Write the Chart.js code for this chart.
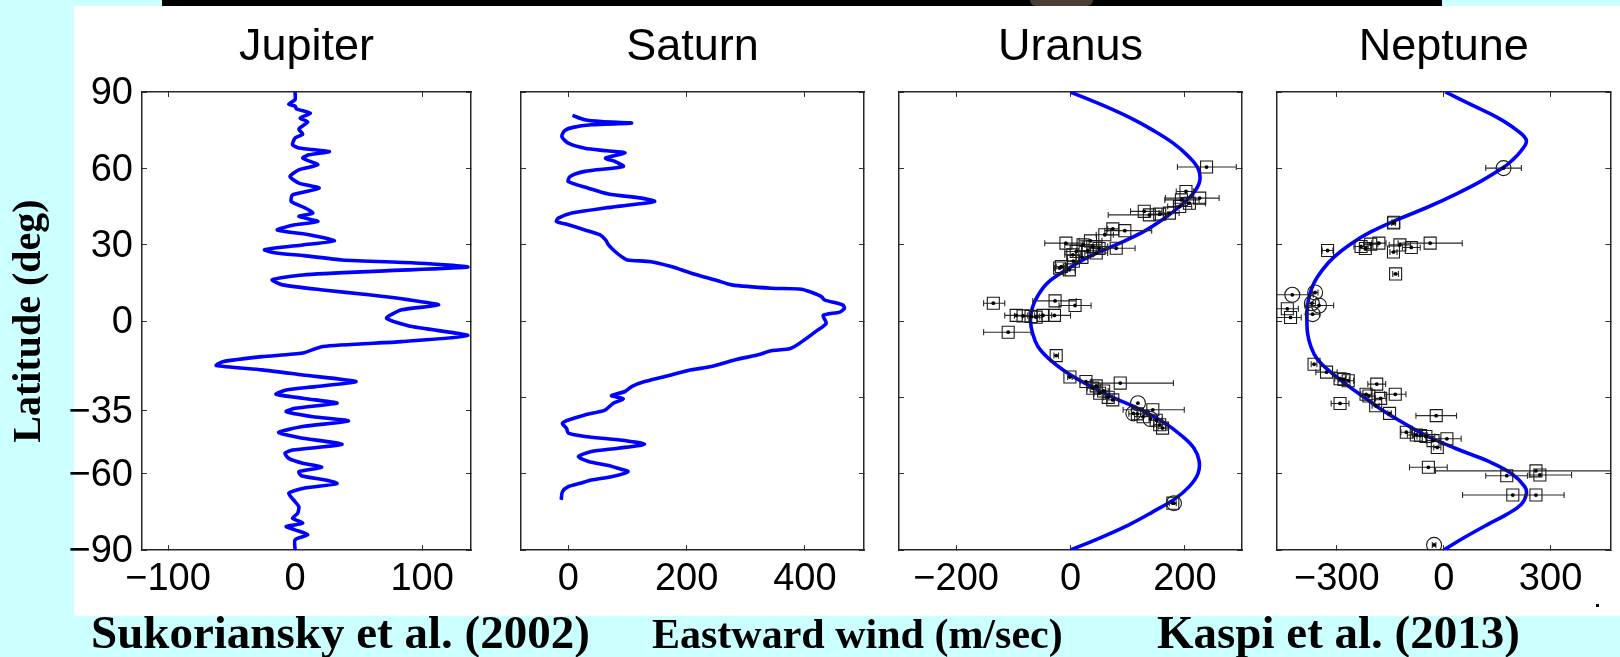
<!DOCTYPE html>
<html><head><meta charset="utf-8">
<script src="https://cdn.jsdelivr.net/npm/chart.js@4/dist/chart.umd.min.js"></script>
<style>
html,body{margin:0;padding:0;width:1620px;height:657px;overflow:hidden;background:#ccffff;position:relative}
#white{position:absolute;left:74px;top:6px;width:1546px;height:610px;background:#fff}
#bar{position:absolute;left:162px;top:0;width:1280px;height:6px;background:#000}
#blob{position:absolute;left:1030px;top:0;width:63px;height:6px;background:#4a3d32;border-radius:0 0 30px 30px}
#dot{position:absolute;left:1596px;top:604px;width:3px;height:3px;background:#000}
canvas{position:absolute;top:0}
.cap{position:absolute;font-family:"Liberation Serif","Times New Roman",serif;font-weight:bold;line-height:1;white-space:nowrap;color:#000}
</style></head><body>
<div id="white"></div><div id="bar"></div><div id="blob"></div><div id="dot"></div>
<canvas id="cJ" width="481" height="616" style="left:0px;width:481px;height:616px"></canvas>
<canvas id="cS" width="369" height="616" style="left:505px;width:369px;height:616px"></canvas>
<canvas id="cU" width="369" height="616" style="left:883px;width:369px;height:616px"></canvas>
<canvas id="cN" width="359" height="616" style="left:1261px;width:359px;height:616px"></canvas>
<div class="cap" style="left:91px;top:609px;font-size:47px">Sukoriansky et al. (2002)</div>
<div class="cap" style="left:652px;top:613px;font-size:42px">Eastward wind (m/sec)</div>
<div class="cap" style="left:1157px;top:609px;font-size:47px">Kaspi et al. (2013)</div>
<script>
// ---------- DATA ----------
const titles = ['Jupiter', 'Saturn', 'Uranus', 'Neptune'];
const yTicksJupiter = [90, 60, 30, 0, -35, -60, -90];
const yTicksOther = [90, 60, 30, 0, -30, -60, -90];
const xTicksJupiter = [-100, 0, 100];
const xTicksSaturn = [0, 200, 400];
const xTicksUranus = [-200, 0, 200];
const xTicksNeptune = [-300, 0, 300];

const jupiterLat = [90, 87, 85.2, 84.5, 83.4, 81.7, 79.7, 78.3, 75.4, 73.4, 71.9, 69.3, 68, 66.6, 65.3, 64, 61.4, 59.4, 56.8, 54.2, 52.2, 49.6, 47, 44.4, 42.4, 41.1, 39.1, 37.8, 35.8, 33.9, 31.5, 29.9, 28, 26.7, 25.7, 24, 22.7, 21.2, 19.7, 18.1, 16.2, 14.2, 12.2, 10.3, 8.3, 6.3, 4.4, 1.1, -2.2, -5.7, -8.1, -10, -12.6, -14, -16, -17.5, -19.2, -21.2, -23.8, -25.8, -27.1, -28.8, -31, -32.3, -34.3, -35.6, -37.6, -39.3, -41.5, -43.8, -45.8, -48.5, -50.7, -52, -54, -55.9, -57.5, -59.2, -60.8, -62.5, -63.9, -65.8, -67.7, -70.4, -73, -75.6, -77.5, -79.5, -80.8, -82.1, -84, -86, -90];
const jupiterWind = [0, 0, -5, 0, 1, 12, 4, 10, 3, 6, 0, -2, 3, 27, 11, 6, 18, 3, -4, 3, 19, -2, -3, 8, 14, 3, 18, 0, -14, 11, 31, 6, -24, -15, 7, 37, 98, 136, 71, 6, -18, -10, 22, 58, 90, 113, 84, 72, 92, 136, 84, 22, 6, -26, -57, -62, -26, 6, 48, 16, -7, -15, 16, 33, 0, -7, 14, 42, 6, -13, 3, 37, -2, -8, -5, 6, 21, 3, 5, 24, 33, 6, -5, -1, 3, 2, -2, 6, -7, 0, 10, 0, 0];

const saturnLat = [80.8, 79.1, 78.4, 77.8, 77.1, 76.1, 74.8, 72.5, 69.9, 67.9, 66.9, 66, 64, 62.7, 60.7, 58.8, 56.8, 54.8, 52.2, 49.9, 48.3, 47, 45.7, 44.4, 42.4, 40.4, 39.1, 37.8, 35.8, 33.9, 31.9, 29.9, 27.3, 25.3, 24, 23.3, 21.4, 18.8, 15.8, 14.2, 12.9, 12.5, 11.3, 9.6, 8.3, 6.3, 5, 3.5, 2.2, -0.9, -3.5, -10.7, -11.7, -13.3, -15.3, -17.9, -19.2, -21.2, -23.8, -25.8, -27.7, -29.3, -30.6, -32.3, -35, -36.9, -38.9, -40.2, -42.2, -44.1, -45.4, -46.7, -48.4, -50, -51.3, -53.3, -55.2, -56.8, -57.9, -59.2, -61.2, -62.5, -63.8, -65.1, -67.1, -70.3];
const saturnWind = [7, 28, 56, 107, 39, 8, -6, -11, 0, 28, 65, 96, 63, 79, 93, 28, 3, 0, 34, 68, 124, 146, 107, 62, 6, -17, -20, 0, 28, 53, 63, 68, 79, 90, 100, 140, 174, 208, 253, 276, 343, 394, 411, 428, 433, 464, 467, 459, 431, 436, 422, 377, 343, 321, 281, 242, 208, 174, 129, 107, 96, 73, 93, 76, 62, 28, 0, -10, -3, 0, 28, 84, 129, 84, 39, 17, 34, 68, 84, 101, 73, 39, 20, 0, -10, -12];

const uranusModelLat = [90, 85, 80, 75, 70, 65, 60, 55, 50, 45, 40, 35, 30, 25, 20, 15, 10, 5, 0, -5, -10, -15, -20, -25, -30, -35, -40, -45, -50, -55, -60, -65, -70, -75, -80, -85, -90];
const uranusModelWind = [0, 54, 103, 144, 179, 205, 223, 226, 214, 191, 162, 127, 80, 30, -8, -40, -57, -67, -70, -66, -57, -37, -8, 30, 74, 124, 164, 194, 216, 225, 223, 208, 182, 144, 103, 54, 0];

const uranusSqLat  = [60.5, 50.9, 48.3, 47.6, 46.3, 45, 42.4, 43.1, 41.7, 42, 36.2, 35.5, 33.9, 28.6, 30.6, 29.9, 29.3, 27.3, 27.6, 26.7, 26, 21.4, 20.1, 20.8, 28.5, 25, 23.5, 31.5, 7, 7.9, 6.1, 2.2, 2, 1.8, 2.2, 2.2, 1.5, -4.4, -13.6, -22, -23.8, -24.4, -26.4, -28.4, -31, -30, -34.9, -37.6, -40.8, -42.1, -39, -36.5, -71.6, -25.5, -27.5];
const uranusSqWind = [238, 202, 226, 194, 208, 191, 173, 129, 138, 156, 74, 95, 60, 80, -8, 22, 39, 10, 30, 45, 4, -16, -2, -19, 50, 20, 5, 35, -135, -27, 8, -95, -83, -69, -48, -28, -60, -109, -25, -1, 27, 87, 39, 51, 74, 66, 144, 127, 156, 161, 150, 117, 179, 45, 58];
const uranusSqLo   = [187, 185, 166, 165, 180, 170, 155, 105, 66, 140, 65, 60, 45, 45, -45, -10, 15, -10, 10, 25, -10, -25, -12, -28, 35, 10, -5, 15, -152, -66, -20, -115, -98, -84, -63, -50, -70, -152, -29, -5, 17, 39, 29, 41, 64, 58, 92, 112, 146, 153, 140, 102, 173, 37, 50];
const uranusSqHi   = [290, 215, 260, 225, 236, 212, 190, 160, 170, 170, 84, 142, 75, 113, 22, 55, 65, 30, 50, 65, 18, -7, 8, -10, 65, 30, 15, 55, -115, 10, 36, -75, -68, -54, -33, 0, -50, -69, -21, 3, 37, 180, 49, 61, 84, 74, 199, 142, 166, 169, 160, 132, 185, 53, 66];
const uranusCircLat  = [-32.3, -36.3, -38.5, -71.6];
const uranusCircWind = [118, 110, 140, 181];

const neptuneModelLat = [90, 85, 80, 75, 71, 67, 63, 60, 55, 50, 45, 40, 35, 30, 25, 20, 15, 10, 5, 0, -5, -10, -15, -20, -25, -30, -35, -40, -45, -50, -55, -60, -65, -68, -72, -76, -80, -85, -90];
const neptuneModelWind = [5, 77, 150, 205, 232, 218, 191, 164, 105, 36, -41, -127, -205, -264, -309, -341, -364, -377, -383, -384, -382, -373, -355, -318, -273, -223, -173, -114, -50, 32, 123, 191, 227, 232, 218, 177, 123, 59, 0];

const neptuneSqLat  = [38.5, 38.8, 27.7, 29.3, 30.2, 30.6, 29.9, 28.9, 30.6, 27.1, 18.5, 28.5, 4.8, 1.4, -17, -20.1, -22.7, -23.5, -23, -24.8, -32.4, -28.8, -29.5, -30.4, -28.8, -33.3, -36.3, -37.2, -43.7, -44.8, -45.4, -45, -46.3, -47, -49.7, -57.5, -60.8, -58.9, -60.5, -68.4, -68.4];
const neptuneSqWind = [-141, -140, -326, -232, -205, -182, -123, -91, -38, -141, -135, -220, -439, -430, -364, -329, -291, -268, -280, -188, -291, -218, -210, -177, -136, -191, -152, -21, -105, -77, -50, -65, 9, -30, -18, -43, 177, 259, 270, 194, 259];
const neptuneSqLo   = [-146, -145, -341, -252, -225, -202, -153, -116, -128, -151, -143, -235, -470, -470, -372, -359, -306, -283, -295, -213, -316, -233, -225, -192, -166, -201, -157, -78, -120, -102, -75, -85, -31, -50, -28, -96, 118, -23, 240, 53, 230];
const neptuneSqHi   = [-136, -135, -311, -212, -185, -162, -93, -66, 52, -131, -127, -205, -408, -400, -356, -299, -276, -253, -265, -163, -266, -203, -195, -162, -106, -181, -147, 36, -90, -52, -25, -45, 49, -10, -8, 10, 235, 470, 359, 230, 338];
const neptuneCircLat  = [60.1, 10.3, 11.2, 6.1, 7, 2.7, -88];
const neptuneCircWind = [168, -425, -361, -350, -370, -368, -27];
const neptuneCircLo   = [118, -470, -369, -390, -380, -388, -32];
const neptuneCircHi   = [218, -366, -353, -309, -360, -348, -22];

// ---------- HELPERS ----------
Chart.defaults.font.family = '"Liberation Sans", Arial, Helvetica, sans-serif';
const BLUE = '#0000ff';
function fmt(v) { return v < 0 ? '\u2212' + Math.abs(v) : String(v); }
function pts(lat, wind) { return lat.map((y, i) => ({ x: wind[i], y: y })); }
function errPts(lat, lo, hi) {
  const d = [];
  lat.forEach((y, i) => { if (hi[i] > lo[i]) { d.push({ x: lo[i], y: y }, { x: hi[i], y: y }, { x: null, y: null }); } });
  return d;
}
function setTicks(arr) { return s => { s.ticks = arr.map(v => ({ value: v })); }; }
const gridOpt = { drawOnChartArea: false, drawTicks: true, tickLength: -5, color: '#333', lineWidth: 1 };
const borderOpt = { display: true, color: '#262626', width: 1.5 };

function lineDs(lat, wind, tension) {
  return { data: pts(lat, wind), showLine: true, borderColor: BLUE, borderWidth: 3.6, pointRadius: 0, tension: tension, fill: false, order: 5 };
}
function errDs(lat, lo, hi) {
  return { data: errPts(lat, lo, hi), showLine: true, spanGaps: false, borderColor: '#2a2a2a', borderWidth: 1.1,
    pointStyle: 'line', pointRotation: 90, pointRadius: 3, pointBorderColor: '#2a2a2a', pointBorderWidth: 1.1, order: 4 };
}
function markDs(lat, wind, style, r) {
  return { data: pts(lat, wind), showLine: false, pointStyle: style, pointRadius: r, pointBorderColor: '#1a1a1a',
    pointBackgroundColor: 'rgba(0,0,0,0)', pointBorderWidth: 1.1, order: 2 };
}
function dotDs(lat, wind) {
  return { data: pts(lat, wind), showLine: false, pointStyle: 'circle', pointRadius: 1.9, pointBorderWidth: 0,
    pointBackgroundColor: '#000', order: 1 };
}

function makePanel(id, p) {
  new Chart(document.getElementById(id), {
    type: 'scatter',
    data: { datasets: p.datasets },
    options: {
      responsive: false, animation: false, events: [],
      layout: { padding: 0 },
      plugins: {
        legend: { display: false }, tooltip: { enabled: false },
        title: { display: true, text: p.title, fullSize: false, color: '#000',
          font: { size: 45, weight: 'normal' }, padding: { top: 21, bottom: 17 } }
      },
      scales: {
        x: { type: 'linear', position: 'bottom', min: p.xmin, max: p.xmax, afterBuildTicks: setTicks(p.xticks),
          afterFit: s => { s.height = 66; },
          ticks: { font: { size: 38 }, color: '#000', padding: 12, maxRotation: 0, autoSkip: false, callback: fmt },
          grid: gridOpt, border: borderOpt },
        x2: { type: 'linear', position: 'top', min: p.xmin, max: p.xmax, afterBuildTicks: setTicks(p.xticks),
          afterFit: s => { s.height = 0; }, ticks: { display: false }, grid: gridOpt, border: borderOpt },
        y: { type: 'linear', position: 'left', min: -90, max: 90, afterBuildTicks: setTicks(p.yticks),
          afterFit: s => { s.width = p.wl; },
          ticks: { display: p.showY, font: { size: 38 }, color: '#000', padding: 14, labelOffset: 2, callback: fmt },
          grid: gridOpt, border: borderOpt,
          title: p.yTitle ? { display: true, text: p.yTitle, color: '#000',
            font: { family: '"Liberation Serif", "Times New Roman", serif', size: 40, weight: 'bold' }, padding: { top: 6, bottom: 0 } } : { display: false } },
        y2: { type: 'linear', position: 'right', min: -90, max: 90, afterBuildTicks: setTicks(p.yticks),
          afterFit: s => { s.width = p.wr; }, ticks: { display: false }, grid: gridOpt, border: borderOpt }
      }
    }
  });
}

makePanel('cJ', { title: titles[0], xmin: -120.5, xmax: 138.5, xticks: xTicksJupiter, yticks: yTicksJupiter,
  wl: 142, wr: 10, showY: true, yTitle: 'Latitude (deg)',
  datasets: [lineDs(jupiterLat, jupiterWind, 0.2)] });

makePanel('cS', { title: titles[1], xmin: -80, xmax: 500, xticks: xTicksSaturn, yticks: yTicksOther,
  wl: 16, wr: 10, showY: false,
  datasets: [lineDs(saturnLat, saturnWind, 0.25)] });

makePanel('cU', { title: titles[2], xmin: -300, xmax: 300, xticks: xTicksUranus, yticks: yTicksOther,
  wl: 16, wr: 10, showY: false,
  datasets: [
    lineDs(uranusModelLat, uranusModelWind, 0.4),
    errDs(uranusSqLat, uranusSqLo, uranusSqHi),
    markDs(uranusSqLat, uranusSqWind, 'rect', 8.5),
    markDs(uranusCircLat, uranusCircWind, 'circle', 7.5),
    dotDs(uranusSqLat.concat(uranusCircLat), uranusSqWind.concat(uranusCircWind))
  ] });

makePanel('cN', { title: titles[3], xmin: -468, xmax: 468, xticks: xTicksNeptune, yticks: yTicksOther,
  wl: 16, wr: 1, showY: false,
  datasets: [
    lineDs(neptuneModelLat, neptuneModelWind, 0.4),
    errDs(neptuneSqLat, neptuneSqLo, neptuneSqHi),
    errDs(neptuneCircLat, neptuneCircLo, neptuneCircHi),
    markDs(neptuneSqLat, neptuneSqWind, 'rect', 8.5),
    markDs(neptuneCircLat, neptuneCircWind, 'circle', 7.5),
    dotDs(neptuneSqLat.concat(neptuneCircLat), neptuneSqWind.concat(neptuneCircWind))
  ] });
</script>
</body></html>
